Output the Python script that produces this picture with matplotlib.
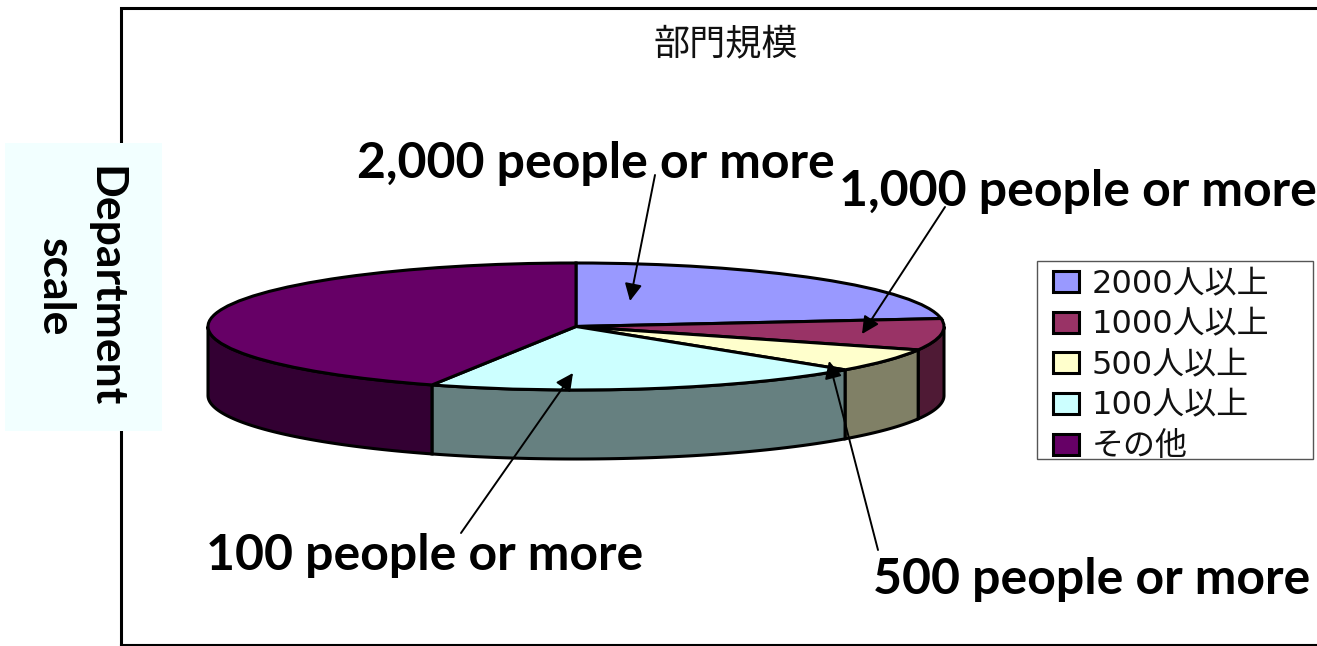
import numpy as np
import matplotlib
matplotlib.use('Agg')
import matplotlib.pyplot as plt
from matplotlib.patches import Rectangle

plt.rcParams['font.family'] = ['DejaVu Sans', 'Noto Sans CJK JP']

# Data
legend_labels = ['2000人以上', '1000人以上', '500人以上', '100人以上', 'その他']
shares = [23.0, 8.0, 5.95, 19.45, 43.6]
top_colors = ['#9999FF', '#993366', '#FFFFCC', '#CCFFFF', '#660066']
side_colors = ['#666699', '#4F1A35', '#808066', '#668080', '#330033']
callouts = ['2,000 people or more', '1,000 people or more', '500 people or more', '100 people or more']
title_text = '部門規模'
side_text = 'Department\nscale'

W, H = 1317, 646
fig = plt.figure(figsize=(W / 100, H / 100), dpi=100)

# Overlay axes in pixel coordinates for the frame, texts and arrows
over = fig.add_axes([0, 0, 1, 1], zorder=3)
over.set_xlim(0, W)
over.set_ylim(H, 0)
over.axis('off')
over.patch.set_alpha(0)

# Pie top is squashed by giving the axes a flat box
cx, cy, rx, ry = 576, 326.5, 368, 63.5
pie_ax = fig.add_axes([(cx - rx) / W, 1 - (cy + ry) / H, 2 * rx / W, 2 * ry / H], zorder=2)
wedges, _ = pie_ax.pie(shares, colors=top_colors, startangle=90, counterclock=False,
                       wedgeprops={'edgecolor': 'black', 'linewidth': 2.2, 'zorder': 5})
pie_ax.set_aspect('auto')
pie_ax.set_xlim(-1, 1)
pie_ax.set_ylim(-1, 1)
pie_ax.axis('off')
for w in wedges:
    w.set_clip_on(False)

# Side wall, only the part of each slice facing the viewer
depth = 69 / ry
for w, col in zip(wedges, side_colors):
    t1, t2 = w.theta1, w.theta2
    for k in (-360, 0, 360):
        a = max(t1 + k, -180)
        b = min(t2 + k, 0)
        if b <= a:
            continue
        th = np.radians(np.linspace(a, b, 80))
        x = np.cos(th)
        y = np.sin(th)
        pie_ax.fill(np.r_[x, x[::-1]], np.r_[y, y[::-1] - depth], facecolor=col,
                    edgecolor='black', linewidth=2.2, zorder=3, clip_on=False)

# Outer frame
over.plot([121, 121, 1317], [645, 8, 8], color='black', lw=2.2, solid_joinstyle='miter')
over.plot([121, 1317], [645, 645], color='black', lw=1.5)
over.add_patch(Rectangle((5, 143), 157, 288, facecolor='#F2FFFF', edgecolor='none', zorder=4))
over.text(80, 287, side_text, rotation=-90, ha='center', va='center', family='Lato',
          fontweight='bold', fontsize=32, linespacing=1.3, zorder=5, multialignment='center')

over.text(726, 44, title_text, ha='center', va='center', fontsize=26, color='#111111')

# Legend
over.add_patch(Rectangle((1037, 261), 276, 198, facecolor='white', edgecolor='#555555', lw=1.0, zorder=1))
leg = over.legend(wedges, legend_labels, loc='upper left', bbox_to_anchor=(1053, 269),
                  bbox_transform=over.transData, frameon=False, fontsize=23, borderpad=0,
                  borderaxespad=0, handlelength=0.81, handleheight=0.64, handletextpad=0.4,
                  labelspacing=0.3, labelcolor='#111111')

# Callouts with arrows
label_pos = [(596, 163), (1078, 192), (1092, 579), (425, 555)]
arrow_from = [(655, 175), (945, 207), (878, 550), (461, 533)]
arrow_to = [(630, 301), (862, 334), (829, 361), (573, 373)]
for txt, pos, a0, a1 in zip(callouts, label_pos, arrow_from, arrow_to):
    over.annotate('', xy=a1, xytext=a0, zorder=6,
                  arrowprops=dict(arrowstyle='-|>', color='black', lw=1.4, mutation_scale=26,
                                  shrinkA=0, shrinkB=0))
    over.text(pos[0], pos[1], txt, ha='center', va='center', family='Lato',
              fontweight='bold', fontsize=36, zorder=7, color='black')

fig.savefig('out.png', dpi=100)
